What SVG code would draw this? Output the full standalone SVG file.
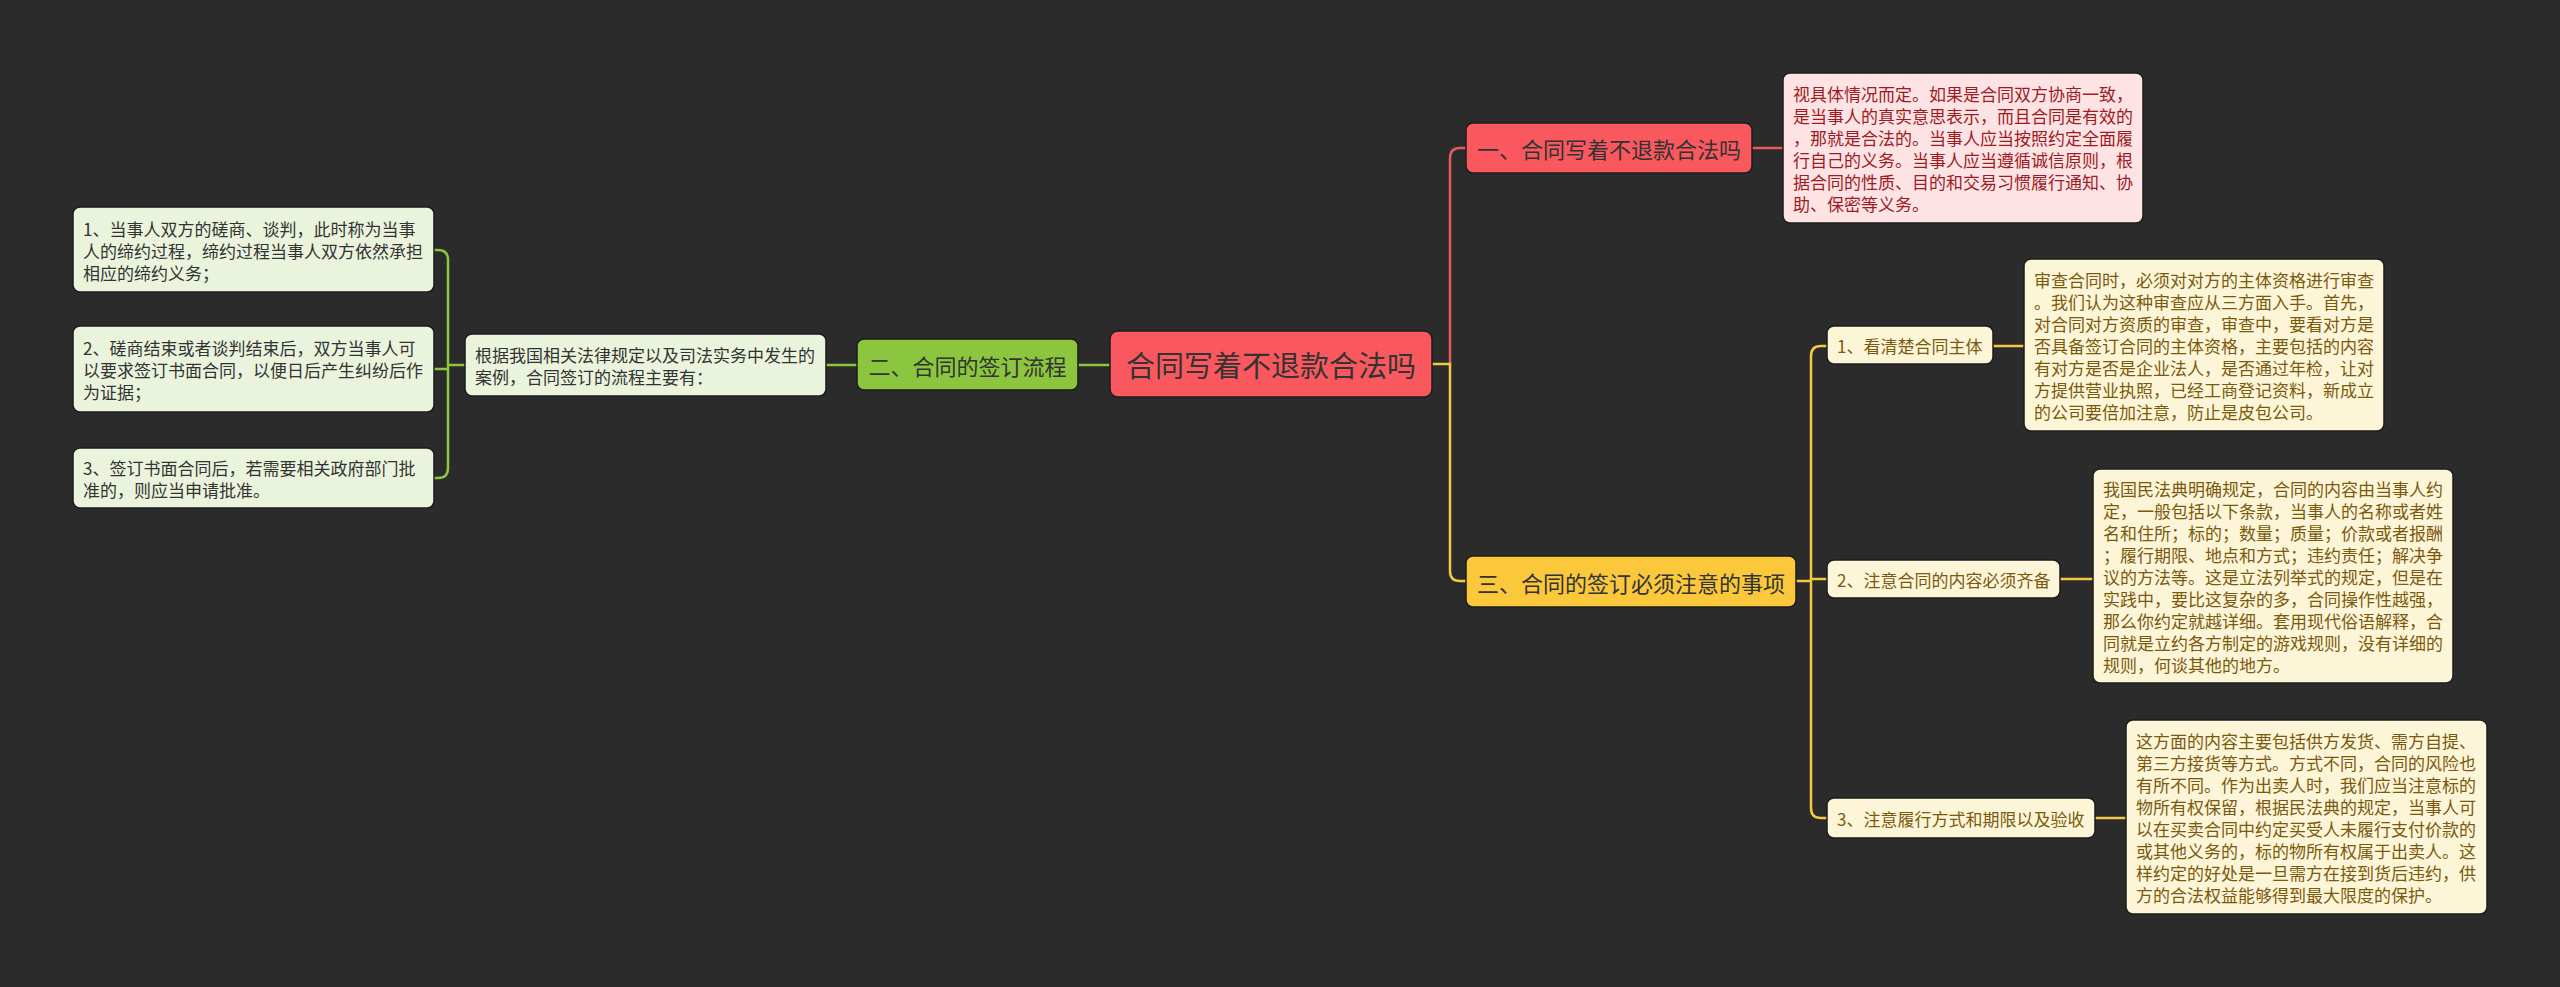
<svg xmlns="http://www.w3.org/2000/svg" width="2560" height="987" viewBox="0 0 2560 987">
<style>
text{font-family:"Noto Sans CJK SC","Noto Sans",sans-serif;}
.box{stroke:#1c1c1c;stroke-width:1.5;}
.t17{font-size:17px;}
.c{dominant-baseline:central;}
.mid{text-anchor:middle;}
.red{fill:#f9585e;}
.pink{fill:#fde3e4;}
.green{fill:#8cc63e;}
.leaf{fill:#eaf4dc;}
.yellow{fill:#fbc83c;}
.cream{fill:#fdf5d8;}
.tdark{fill:#333333;}
.tred{fill:#9e1b24;}
.tbrown{fill:#7b5a0e;}
.conn path{fill:none;stroke-width:2.5;}
.lr{stroke:#e35a60;}
.lg{stroke:#8cc63e;}
.ly{stroke:#f5c842;}
</style>
<rect x="0" y="0" width="2560" height="987" fill="#2b2b2b"/>
<g id="connectors" class="conn">
  <path class="lg" d="M1110,365 H1078"/>
  <path class="lg" d="M857,365 H826"/>
  <path class="lg" d="M465,365 H448"/>
  <path class="lg" d="M434,250 H438 Q448,250 448,260 V468 Q448,478 438,478 H434"/>
  <path class="lg" d="M434,369 H448"/>
  <path class="lr" d="M1450,364 V158 Q1450,148 1460,148 H1466"/>
  <path class="lr" d="M1752,148 H1783"/>
  <path class="ly" d="M1432,364 H1450 V571 Q1450,581 1460,581 H1466"/>
  <path class="ly" d="M1796,581 H1811"/>
  <path class="ly" d="M1827,346 H1821 Q1811,346 1811,356 V808 Q1811,818 1821,818 H1827"/>
  <path class="ly" d="M1811,579 H1827"/>
  <path class="ly" d="M1993,346 H2024"/>
  <path class="ly" d="M2060,579 H2093"/>
  <path class="ly" d="M2095,818 H2126"/>
</g>
<g id="central">
  <rect class="box red" x="1110" y="331" width="322" height="66" rx="8"/>
  <text class="c mid tdark" x="1271" y="364" font-size="29">合同写着不退款合法吗</text>
</g>
<g id="n1">
  <rect class="box red" x="1466" y="123" width="286" height="50" rx="7"/>
  <text class="c mid tdark" x="1609" y="148" font-size="22">一、合同写着不退款合法吗</text>
</g>
<g id="n1-desc">
  <rect class="box pink" x="1783" y="73" width="360" height="150" rx="7"/>
  <text class="t17 c tred" x="1793">
    <tspan x="1793" y="93">视具体情况而定。如果是合同双方协商一致，</tspan>
    <tspan x="1793" y="115">是当事人的真实意思表示，而且合同是有效的</tspan>
    <tspan x="1793" y="137">，那就是合法的。当事人应当按照约定全面履</tspan>
    <tspan x="1793" y="159">行自己的义务。当事人应当遵循诚信原则，根</tspan>
    <tspan x="1793" y="181">据合同的性质、目的和交易习惯履行通知、协</tspan>
    <tspan x="1793" y="203">助、保密等义务。</tspan>
  </text>
</g>
<g id="n2">
  <rect class="box green" x="857" y="339" width="221" height="51" rx="7"/>
  <text class="c mid tdark" x="967.5" y="364.5" font-size="22">二、合同的签订流程</text>
</g>
<g id="n2-desc">
  <rect class="box leaf" x="465" y="334" width="361" height="62" rx="7"/>
  <text class="t17 c tdark">
    <tspan x="475" y="354">根据我国相关法律规定以及司法实务中发生的</tspan>
    <tspan x="475" y="376">案例，合同签订的流程主要有：</tspan>
  </text>
</g>
<g id="leaf1">
  <rect class="box leaf" x="73" y="207" width="361" height="85" rx="7"/>
  <text class="t17 c tdark">
    <tspan x="83" y="227.5">1、当事人双方的磋商、谈判，此时称为当事</tspan>
    <tspan x="83" y="249.5">人的缔约过程，缔约过程当事人双方依然承担</tspan>
    <tspan x="83" y="271.5">相应的缔约义务；</tspan>
  </text>
</g>
<g id="leaf2">
  <rect class="box leaf" x="73" y="326" width="361" height="86" rx="7"/>
  <text class="t17 c tdark">
    <tspan x="83" y="347">2、磋商结束或者谈判结束后，双方当事人可</tspan>
    <tspan x="83" y="369">以要求签订书面合同，以便日后产生纠纷后作</tspan>
    <tspan x="83" y="391">为证据；</tspan>
  </text>
</g>
<g id="leaf3">
  <rect class="box leaf" x="73" y="448" width="361" height="60" rx="7"/>
  <text class="t17 c tdark">
    <tspan x="83" y="467">3、签订书面合同后，若需要相关政府部门批</tspan>
    <tspan x="83" y="489">准的，则应当申请批准。</tspan>
  </text>
</g>
<g id="n3">
  <rect class="box yellow" x="1466" y="556" width="330" height="51" rx="7"/>
  <text class="c mid tdark" x="1631" y="581.5" font-size="22">三、合同的签订必须注意的事项</text>
</g>
<g id="s1">
  <rect class="box cream" x="1827" y="326" width="166" height="38" rx="7"/>
  <text class="t17 c tbrown" x="1837" y="345">1、看清楚合同主体</text>
</g>
<g id="s1-desc">
  <rect class="box cream" x="2024" y="259" width="360" height="172" rx="7"/>
  <text class="t17 c tbrown">
    <tspan x="2034" y="279">审查合同时，必须对对方的主体资格进行审查</tspan>
    <tspan x="2034" y="301">。我们认为这种审查应从三方面入手。首先，</tspan>
    <tspan x="2034" y="323">对合同对方资质的审查，审查中，要看对方是</tspan>
    <tspan x="2034" y="345">否具备签订合同的主体资格，主要包括的内容</tspan>
    <tspan x="2034" y="367">有对方是否是企业法人，是否通过年检，让对</tspan>
    <tspan x="2034" y="389">方提供营业执照，已经工商登记资料，新成立</tspan>
    <tspan x="2034" y="411">的公司要倍加注意，防止是皮包公司。</tspan>
  </text>
</g>
<g id="s2">
  <rect class="box cream" x="1827" y="560" width="233" height="38" rx="7"/>
  <text class="t17 c tbrown" x="1837" y="579">2、注意合同的内容必须齐备</text>
</g>
<g id="s2-desc">
  <rect class="box cream" x="2093" y="469" width="360" height="214" rx="7"/>
  <text class="t17 c tbrown">
    <tspan x="2103" y="488">我国民法典明确规定，合同的内容由当事人约</tspan>
    <tspan x="2103" y="510">定，一般包括以下条款，当事人的名称或者姓</tspan>
    <tspan x="2103" y="532">名和住所；标的；数量；质量；价款或者报酬</tspan>
    <tspan x="2103" y="554">；履行期限、地点和方式；违约责任；解决争</tspan>
    <tspan x="2103" y="576">议的方法等。这是立法列举式的规定，但是在</tspan>
    <tspan x="2103" y="598">实践中，要比这复杂的多，合同操作性越强，</tspan>
    <tspan x="2103" y="620">那么你约定就越详细。套用现代俗语解释，合</tspan>
    <tspan x="2103" y="642">同就是立约各方制定的游戏规则，没有详细的</tspan>
    <tspan x="2103" y="664">规则，何谈其他的地方。</tspan>
  </text>
</g>
<g id="s3">
  <rect class="box cream" x="1827" y="798" width="268" height="40" rx="7"/>
  <text class="t17 c tbrown" x="1837" y="818">3、注意履行方式和期限以及验收</text>
</g>
<g id="s3-desc">
  <rect class="box cream" x="2126" y="720" width="361" height="194" rx="7"/>
  <text class="t17 c tbrown">
    <tspan x="2136" y="740">这方面的内容主要包括供方发货、需方自提、</tspan>
    <tspan x="2136" y="762">第三方接货等方式。方式不同，合同的风险也</tspan>
    <tspan x="2136" y="784">有所不同。作为出卖人时，我们应当注意标的</tspan>
    <tspan x="2136" y="806">物所有权保留，根据民法典的规定，当事人可</tspan>
    <tspan x="2136" y="828">以在买卖合同中约定买受人未履行支付价款的</tspan>
    <tspan x="2136" y="850">或其他义务的，标的物所有权属于出卖人。这</tspan>
    <tspan x="2136" y="872">样约定的好处是一旦需方在接到货后违约，供</tspan>
    <tspan x="2136" y="894">方的合法权益能够得到最大限度的保护。</tspan>
  </text>
</g>
</svg>
